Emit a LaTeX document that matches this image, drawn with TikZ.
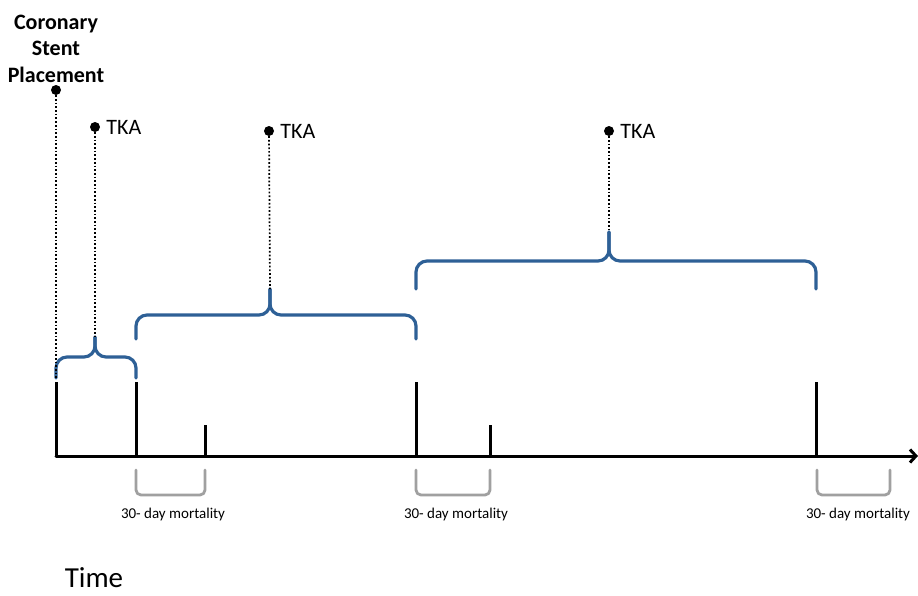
\documentclass[tikz,border=0pt]{standalone}
\usepackage{fontspec}
\setmainfont{Carlito}
\usetikzlibrary{positioning,arrows.meta}
\definecolor{braceblue}{RGB}{46,96,150}
\definecolor{bracketgray}{RGB}{160,160,160}
\begin{document}
\begin{tikzpicture}[x=1pt,y=-1pt,line cap=round,line join=round,
	tick/.style={line width=3pt,line cap=butt},
	tkabrace/.style={draw=braceblue,line width=3.2pt,rounded corners=11pt},
	mortbracket/.style={draw=bracketgray,line width=2.8pt,rounded corners=5pt},
	event/.style={circle,fill=black,inner sep=0pt,minimum size=10pt},
	link/.style={dotted,line width=1.7pt,line cap=butt},
	tkalbl/.style={font=\fontsize{22}{26}\selectfont,inner sep=1pt},
	mortlbl/.style={font=\fontsize{15}{17}\selectfont,inner sep=0pt}]
	\useasboundingbox (0,0) rectangle (918,595);
	% time axis
	\coordinate (t0) at (56,456);
	\coordinate (tend) at (918,456);
	\draw[line width=3pt,-{Straight Barb[length=6pt,width=13pt]}] (t0) -- (tend);
	\foreach \x in {56,136,416,816} \draw[tick] (\x,382) -- (\x,456);
	\foreach \x in {205,490} \draw[tick] (\x,425) -- (\x,456);
	% braces
	\coordinate (b1l) at (56,378);
	\coordinate (tip1) at (95,337);
	\coordinate (tip2) at (270,289);
	\coordinate (tip3) at (609,232);
	\draw[tkabrace] (b1l) |- (95,357) -- (tip1);
	\draw[tkabrace] (tip1) -- (95,357) -| (136,378);
	\draw[tkabrace] (136,339) |- (270,315) -- (tip2);
	\draw[tkabrace] (tip2) -- (270,315) -| (416,339);
	\draw[tkabrace] (416,289) |- (609,261) -- (tip3);
	\draw[tkabrace] (tip3) -- (609,261) -| (816,289);
	% events
	\node[event] (stent) at (56,90) {};
	\node[font=\bfseries\fontsize{22}{26.5}\selectfont,align=center,inner sep=0pt,above=2pt of stent] (stentlbl) {Coronary\\Stent\\Placement};
	\node[event] (tka1) at (95,127) {};
	\node[event] (tka2) at (269,131) {};
	\node[event] (tka3) at (609,131) {};
	\foreach \i in {1,2,3} \node[tkalbl,right=5pt of tka\i] (tkalbl\i) {TKA};
	\draw[link] (stent) -- (b1l);
	\foreach \i in {1,2,3} \draw[link] (tka\i) -- (tip\i);
	% 30-day windows
	\foreach \a/\b/\c [count=\i] in {136/205/173,416/490/456,817/890/858}{
		\draw[mortbracket] (\a,470) -- (\a,495) -- (\b,495) -- (\b,470);
		\node[mortlbl] (mort\i) at (\c,514) {30- day mortality};
	}
	\node[font=\fontsize{29}{34}\selectfont,inner sep=0pt] (timelbl) at (94,578) {Time};
\end{tikzpicture}
\end{document}
